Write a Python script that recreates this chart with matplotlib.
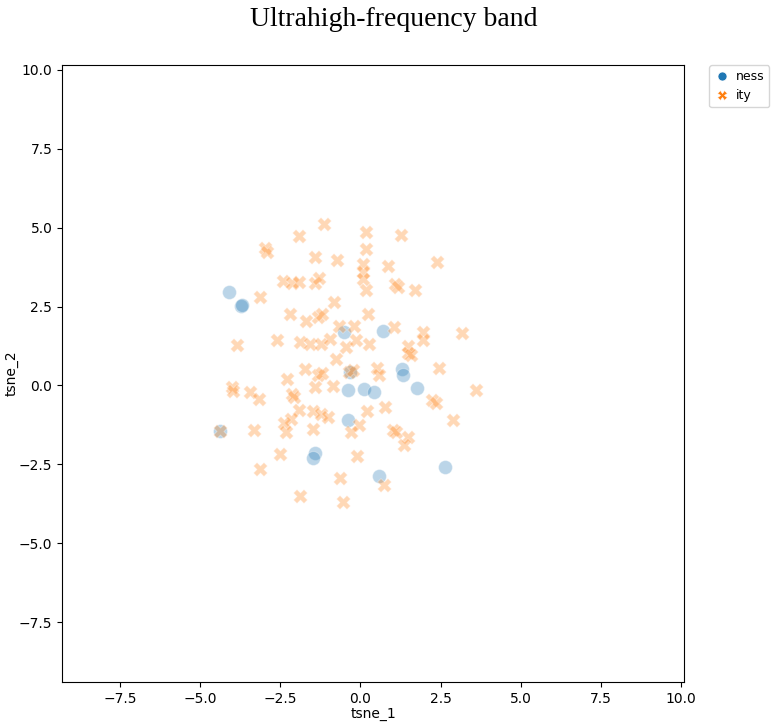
import numpy as np
import matplotlib
matplotlib.use("Agg")
import matplotlib.pyplot as plt
from matplotlib.lines import Line2D

# t-sne coordinates
ness_x = [-4.11, -3.71, -3.68, -0.50, 0.69, -0.34, -0.40, 0.10, 0.41, 1.29,
          1.33, 1.75, -0.38, 0.59, 2.63, -4.39, -1.43, -1.49]
ness_y = [2.97, 2.53, 2.55, 1.68, 1.74, 0.41, -0.14, -0.12, -0.21, 0.51,
          0.33, -0.07, -1.11, -2.88, -2.60, -1.45, -2.13, -2.31]

ity_x = [-1.15, -1.90, -2.96, -2.90, -1.43, -0.73, -2.40, -2.12, -1.93, -1.43,
         -1.30, -3.12, -0.83, -2.21, -1.69, -1.33, -1.19, -0.68, -2.61, -3.85,
         -1.87, -1.56, -1.22, -0.94, -0.45, 0.16, 1.25, 0.16, 0.07, 0.85,
         2.38, 0.07, 0.07, 0.16, 1.09, 1.18, 1.71, 0.25, -0.19, 1.06,
         1.96, 1.96, 3.17, -0.13, 0.26, 1.47, -0.76, -1.74, -2.30, -1.33,
         -1.19, -1.43, -0.86, -3.99, -3.96, -3.44, -3.15, -2.13, -2.06, -1.93,
         -1.49, -1.22, -1.02, -2.16, -2.37, -2.31, -1.49, -3.32, -4.39, -2.50,
         -3.12, -0.65, -1.88, -0.53, -0.37, 1.47, 1.58, -0.24, 0.51, 0.57,
         2.44, 3.60, 2.23, 2.36, 0.78, 0.21, 2.90, -0.03, -0.29, 1.01,
         1.11, 1.47, 1.35, -0.10, 0.75]
ity_y = [5.12, 4.72, 4.37, 4.24, 4.06, 3.96, 3.32, 3.26, 3.29, 3.25,
         3.41, 2.79, 2.64, 2.25, 2.03, 2.16, 2.25, 1.87, 1.45, 1.27,
         1.37, 1.30, 1.30, 1.48, 1.21, 4.87, 4.78, 4.33, 3.85, 3.78,
         3.92, 3.59, 3.38, 3.03, 3.20, 3.13, 3.01, 2.25, 1.87, 1.84,
         1.69, 1.45, 1.67, 1.45, 1.30, 1.24, 0.84, 0.53, 0.19, 0.34,
         0.39, -0.05, -0.03, -0.06, -0.19, -0.21, -0.42, -0.26, -0.37, -0.79,
         -0.82, -0.92, -1.00, -1.08, -1.19, -1.48, -1.37, -1.40, -1.45, -2.18,
         -2.64, -2.95, -3.50, -3.69, 0.44, 1.02, 0.95, 0.50, 0.56, 0.32,
         0.56, -0.16, -0.47, -0.56, -0.69, -0.81, -1.11, -1.27, -1.48, -1.40,
         -1.48, -1.64, -1.90, -2.25, -3.16]

blue = "#1f77b4"
orange = "#ff7f0e"

fig = plt.figure(figsize=(7.76, 7.24), dpi=100)
ax = fig.add_axes([0.080, 0.058, 0.802, 0.852])

ax.scatter(ness_x, ness_y, s=100, marker="o", color=blue, alpha=0.3,
           edgecolor="white", linewidth=0.75)
ax.scatter(ity_x, ity_y, s=100, marker="X", color=orange, alpha=0.3,
           edgecolor="white", linewidth=0.75)

ax.set_xlim(-9.3, 10.1)
ax.set_ylim(-9.4, 10.15)
ax.set_xticks(np.arange(-7.5, 10.1, 2.5))
ax.set_yticks(np.arange(-7.5, 10.1, 2.5))
ax.set_xlabel("tsne_1", labelpad=1)
ax.set_ylabel("tsne_2", labelpad=0)

handles = [Line2D([], [], marker="o", color=blue, linestyle="", markersize=6.5,
                  markeredgecolor="white", markeredgewidth=0.5),
           Line2D([], [], marker="X", color=orange, linestyle="", markersize=6.5,
                  markeredgecolor="white", markeredgewidth=0.5)]
ax.legend(handles, ["ness", "ity"], bbox_to_anchor=(1.04, 1), loc=2,
          borderaxespad=0.0, fontsize=9, handlelength=1.2, handletextpad=0.5)

fig.suptitle("Ultrahigh-frequency band", fontsize=20,
             family="Liberation Serif", x=0.507, y=0.99)

fig.savefig("out.png", dpi=100)
